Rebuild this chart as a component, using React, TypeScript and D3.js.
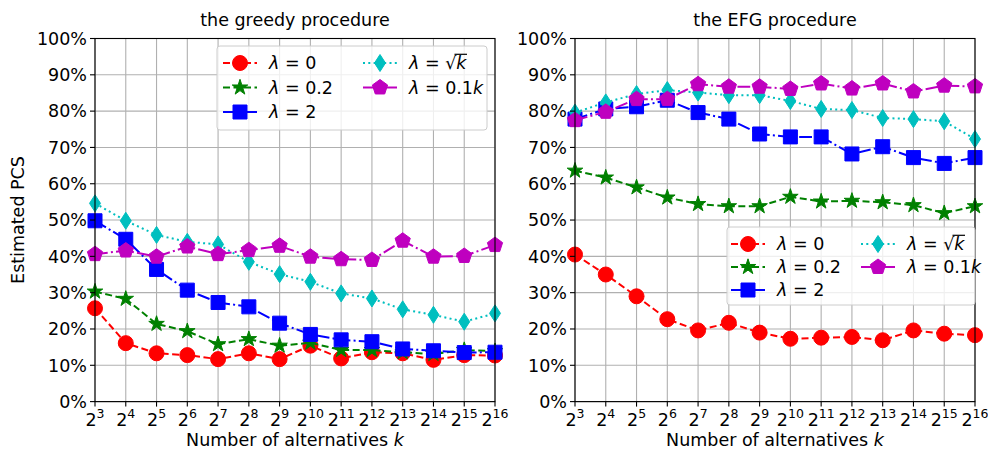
import React from 'react';
import * as d3 from 'd3';

const exponents = [3, 4, 5, 6, 7, 8, 9, 10, 11, 12, 13, 14, 15, 16];
const yTicks = [0, 10, 20, 30, 40, 50, 60, 70, 80, 90, 100];

const greedyL0 = [25.7, 16.1, 13.3, 12.8, 11.7, 13.3, 11.7, 15.4, 11.9, 13.6, 13.3, 11.5, 12.8, 12.7];
const greedyL02 = [30.3, 28.3, 21.4, 19.4, 15.8, 17.2, 15.4, 16.2, 14.2, 14.2, 13.6, 13.1, 14.2, 13.9];
const greedyL2 = [49.8, 44.7, 36.4, 30.7, 27.3, 26.1, 21.6, 18.5, 17.0, 16.5, 14.5, 14.0, 13.5, 13.6];
const greedySqrt = [54.6, 49.8, 45.9, 44.0, 43.3, 38.5, 35.1, 33.0, 29.8, 28.4, 25.4, 23.9, 22.0, 24.3];
const greedy01k = [40.6, 41.6, 39.9, 42.7, 40.6, 41.7, 42.9, 39.9, 39.2, 39.0, 44.3, 39.9, 40.1, 43.1];

const efgL0 = [40.5, 35.0, 29.0, 22.7, 19.6, 21.7, 19.0, 17.3, 17.6, 17.8, 16.9, 19.6, 18.7, 18.3];
const efgL02 = [63.6, 61.7, 59.0, 56.2, 54.4, 53.8, 53.8, 56.4, 55.1, 55.3, 54.9, 54.1, 51.9, 53.8];
const efgL2 = [77.8, 80.6, 81.2, 83.0, 79.6, 77.8, 73.7, 72.9, 72.9, 68.2, 70.2, 67.2, 65.6, 67.2];
const efgSqrt = [79.6, 82.4, 84.7, 85.8, 85.1, 84.4, 84.4, 82.8, 80.6, 80.3, 78.1, 77.8, 77.2, 72.3];
const efg01k = [77.5, 79.8, 83.3, 83.3, 87.4, 86.7, 86.7, 86.1, 87.6, 86.2, 87.6, 85.4, 87.0, 86.8];

const panelTitles = ['the greedy procedure', 'the EFG procedure'];
const xLabel = 'Number of alternatives ';
const yLabel = 'Estimated PCS';

type Marker = 'circle' | 'star' | 'square' | 'diamond' | 'pentagon';
interface Style { color: string; dash: string; marker: Marker; }
const styles: Style[] = [
  { color: '#ff0000', dash: '7,3.5', marker: 'circle' },
  { color: '#008000', dash: '7,3.5', marker: 'star' },
  { color: '#0000ff', dash: '12.8,3.2,2,3.2', marker: 'square' },
  { color: '#00bfbf', dash: '2,3.3', marker: 'diamond' },
  { color: '#bf00bf', dash: '12.8,3.2,2,3.2', marker: 'pentagon' },
];

const FONT = 'DejaVu Sans, sans-serif';
const FS = 17.5;

function markerPath(m: Marker): string {
  if (m === 'circle') return d3.symbol(d3.symbolCircle, Math.PI * 7.5 * 7.5)()!;
  if (m === 'square') return d3.symbol(d3.symbolSquare, 14 * 14)()!;
  if (m === 'star') return d3.symbol(d3.symbolStar, 75)()!;
  if (m === 'diamond') return 'M0,-8.5L5.5,0L0,8.5L-5.5,0Z';
  const r = 8;
  const pts = d3.range(5).map((i) => {
    const a = -Math.PI / 2 + (i * 2 * Math.PI) / 5;
    return [r * Math.cos(a), r * Math.sin(a)];
  });
  return 'M' + pts.map((p) => p[0].toFixed(2) + ',' + p[1].toFixed(2)).join('L') + 'Z';
}

function Label({ i, x, y }: { i: number; x: number; y: number }) {
  const lam = <tspan fontStyle="italic">λ</tspan>;
  if (i === 0) return <text x={x} y={y} fontSize={FS} fontFamily={FONT}>{lam} = 0</text>;
  if (i === 1) return <text x={x} y={y} fontSize={FS} fontFamily={FONT}>{lam} = 0.2</text>;
  if (i === 2) return <text x={x} y={y} fontSize={FS} fontFamily={FONT}>{lam} = 2</text>;
  if (i === 3)
    return (
      <g>
        <text x={x} y={y} fontSize={FS} fontFamily={FONT}>
          {lam} = √<tspan fontStyle="italic">k</tspan>
        </text>
        <line x1={x + 45.5} x2={x + 58} y1={y - 15} y2={y - 15} stroke="#000" strokeWidth={1.2} />
      </g>
    );
  return (
    <text x={x} y={y} fontSize={FS} fontFamily={FONT}>
      {lam} = 0.1<tspan fontStyle="italic">k</tspan>
    </text>
  );
}

interface PanelProps {
  left: number;
  series: number[][];
  title: string;
  legend: { x: number; y: number; w: number; h: number; rowH: number; c1: number; c2: number };
}

function Panel({ left, series, title, legend }: PanelProps) {
  const top = 38.5;
  const bottom = 401.6;
  const width = 400;
  const x = d3.scaleLinear().domain([3, 16]).range([left, left + width]);
  const y = d3.scaleLinear().domain([0, 100]).range([bottom, top]);
  const line = d3
    .line<number>()
    .x((_, i) => x(exponents[i]))
    .y((d) => y(d));
  return (
    <g>
      <rect x={left} y={top} width={width} height={bottom - top} fill="#fff" />
      {exponents.map((e) => (
        <line key={'gx' + e} x1={x(e)} x2={x(e)} y1={top} y2={bottom} stroke="#b0b0b0" strokeWidth={1.1} />
      ))}
      {yTicks.map((t) => (
        <line key={'gy' + t} x1={left} x2={left + width} y1={y(t)} y2={y(t)} stroke="#b0b0b0" strokeWidth={1.1} />
      ))}
      <clipPath id={`clip${left}`}>
        <rect x={left - 10} y={top - 10} width={width + 20} height={bottom - top + 20} />
      </clipPath>
      <g clipPath={`url(#clip${left})`}>
        {series.map((s, si) => (
          <g key={'s' + si}>
            <path
              d={line(s)!}
              fill="none"
              stroke={styles[si].color}
              strokeWidth={2}
              strokeDasharray={styles[si].dash}
            />
            {s.map((v, i) => (
              <path
                key={i}
                d={markerPath(styles[si].marker)}
                transform={`translate(${x(exponents[i])},${y(v)})`}
                fill={styles[si].color}
                stroke={styles[si].color}
                strokeWidth={1}
              />
            ))}
          </g>
        ))}
      </g>
      <rect x={left} y={top} width={width} height={bottom - top} fill="none" stroke="#000" strokeWidth={1.1} />
      {yTicks.map((t) => (
        <g key={'ty' + t}>
          <line x1={left - 5} x2={left} y1={y(t)} y2={y(t)} stroke="#000" strokeWidth={1.1} />
          <text x={left - 8} y={y(t) + 6.3} textAnchor="end" fontSize={FS} fontFamily={FONT}>
            {t}%
          </text>
        </g>
      ))}
      {exponents.map((e) => (
        <g key={'tx' + e}>
          <line x1={x(e)} x2={x(e)} y1={bottom} y2={bottom + 5} stroke="#000" strokeWidth={1.1} />
          <text x={x(e)} y={bottom + 24} textAnchor="middle" fontSize={FS} fontFamily={FONT}>
            2<tspan fontSize={12.5} dy={-7.5}>{e}</tspan>
          </text>
        </g>
      ))}
      <text x={left + width / 2} y={26} textAnchor="middle" fontSize={FS} fontFamily={FONT}>
        {title}
      </text>
      <text x={left + width / 2} y={446} textAnchor="middle" fontSize={FS} fontFamily={FONT}>
        {xLabel}
        <tspan fontStyle="italic">k</tspan>
      </text>
      <g>
        <rect
          x={legend.x}
          y={legend.y}
          width={legend.w}
          height={legend.h}
          rx={3}
          fill="#fff"
          fillOpacity={0.8}
          stroke="#cccccc"
          strokeWidth={1}
        />
        {styles.map((st, i) => {
          const col = i < 3 ? 0 : 1;
          const row = i < 3 ? i : i - 3;
          const hx = col === 0 ? legend.c1 : legend.c2;
          const cy = legend.y + 17 + row * legend.rowH;
          return (
            <g key={'lg' + i}>
              <line x1={hx} x2={hx + 34} y1={cy} y2={cy} stroke={st.color} strokeWidth={2} strokeDasharray={st.dash} />
              <path d={markerPath(st.marker)} transform={`translate(${hx + 17},${cy})`} fill={st.color} stroke={st.color} />
              <Label i={i} x={hx + 46} y={cy + 6.3} />
            </g>
          );
        })}
      </g>
    </g>
  );
}

export default function App() {
  return (
    <svg
      width={988}
      height={450}
      style={{ position: 'absolute', left: 0, top: 0, background: '#fff' }}
    >
      <rect width={988} height={450} fill="#fff" />
      <Panel
        left={95}
        series={[greedyL0, greedyL02, greedyL2, greedySqrt, greedy01k]}
        title={panelTitles[0]}
        legend={{ x: 217, y: 46, w: 270, h: 84, rowH: 24.5, c1: 223, c2: 363 }}
      />
      <Panel
        left={575}
        series={[efgL0, efgL02, efgL2, efgSqrt, efg01k]}
        title={panelTitles[1]}
        legend={{ x: 727, y: 227, w: 248, h: 78, rowH: 23, c1: 731, c2: 861 }}
      />
      <text
        transform="translate(24,220) rotate(-90)"
        textAnchor="middle"
        fontSize={FS}
        fontFamily={FONT}
      >
        {yLabel}
      </text>
    </svg>
  );
}
